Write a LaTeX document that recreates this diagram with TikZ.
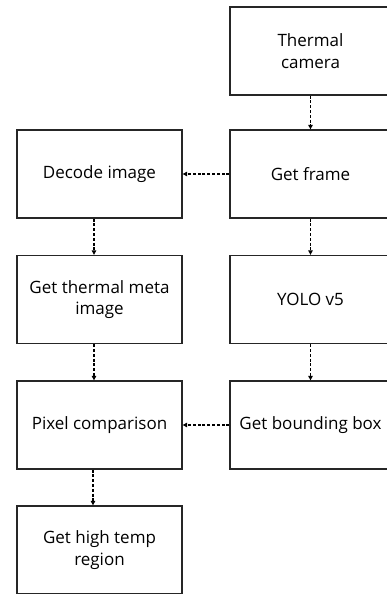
\documentclass[tikz,border=0pt]{standalone}
\usepackage{fontspec}
\setmainfont{Open Sans}
\usetikzlibrary{arrows.meta}
\begin{document}
\begin{tikzpicture}[x=1pt,y=-1pt,
  stepbox/.style={draw=black!85, line width=1.3pt, rectangle, inner sep=0pt,
    minimum height=88pt, align=center, font=\fontsize{17}{21.5}\selectfont, text=black},
  leftbox/.style={stepbox, minimum width=165pt},
  rightbox/.style={stepbox, minimum width=161pt},
  flow/.style={draw=black, line width=1.2pt, dash pattern=on 3pt off 1.8pt,
    -{Triangle[length=4.5pt,width=4.5pt]}}]
  \useasboundingbox (0,0) rectangle (387,594);
  % right column
  \node[rightbox] (cam)  at (310.5,51)  {Thermal\\camera};
  \node[rightbox] (frm)  at (310.5,174) {Get frame};
  \node[rightbox] (yolo) at (310.5,299.5) {YOLO v5};
  \node[rightbox] (bbox) at (310.5,425) {Get bounding box};
  % left column
  \node[leftbox] (dec)  at (99.5,174)   {Decode image};
  \node[leftbox] (meta) at (99.5,299.5) {Get thermal meta\\image};
  \node[leftbox] (pix)  at (99.5,425)   {Pixel comparison};
  \node[leftbox] (hot)  at (99.5,550)   {Get high temp\\region};
  % connectors
  \draw[flow] (cam.south) -- (frm.north);
  \draw[flow] (frm.south) -- (yolo.north);
  \draw[flow] (yolo.south) -- (bbox.north);
  \draw[flow] (frm.west) -- (dec.east);
  \draw[flow] (bbox.west) -- (pix.east);
  \draw[flow] ([xshift=-5.5pt]dec.south) -- ([xshift=-5.5pt]meta.north);
  \draw[flow] ([xshift=-5.5pt]meta.south) -- ([xshift=-5.5pt]pix.north);
  \draw[flow] ([xshift=-6.5pt]pix.south) -- ([xshift=-6.5pt]hot.north);
\end{tikzpicture}
\end{document}
